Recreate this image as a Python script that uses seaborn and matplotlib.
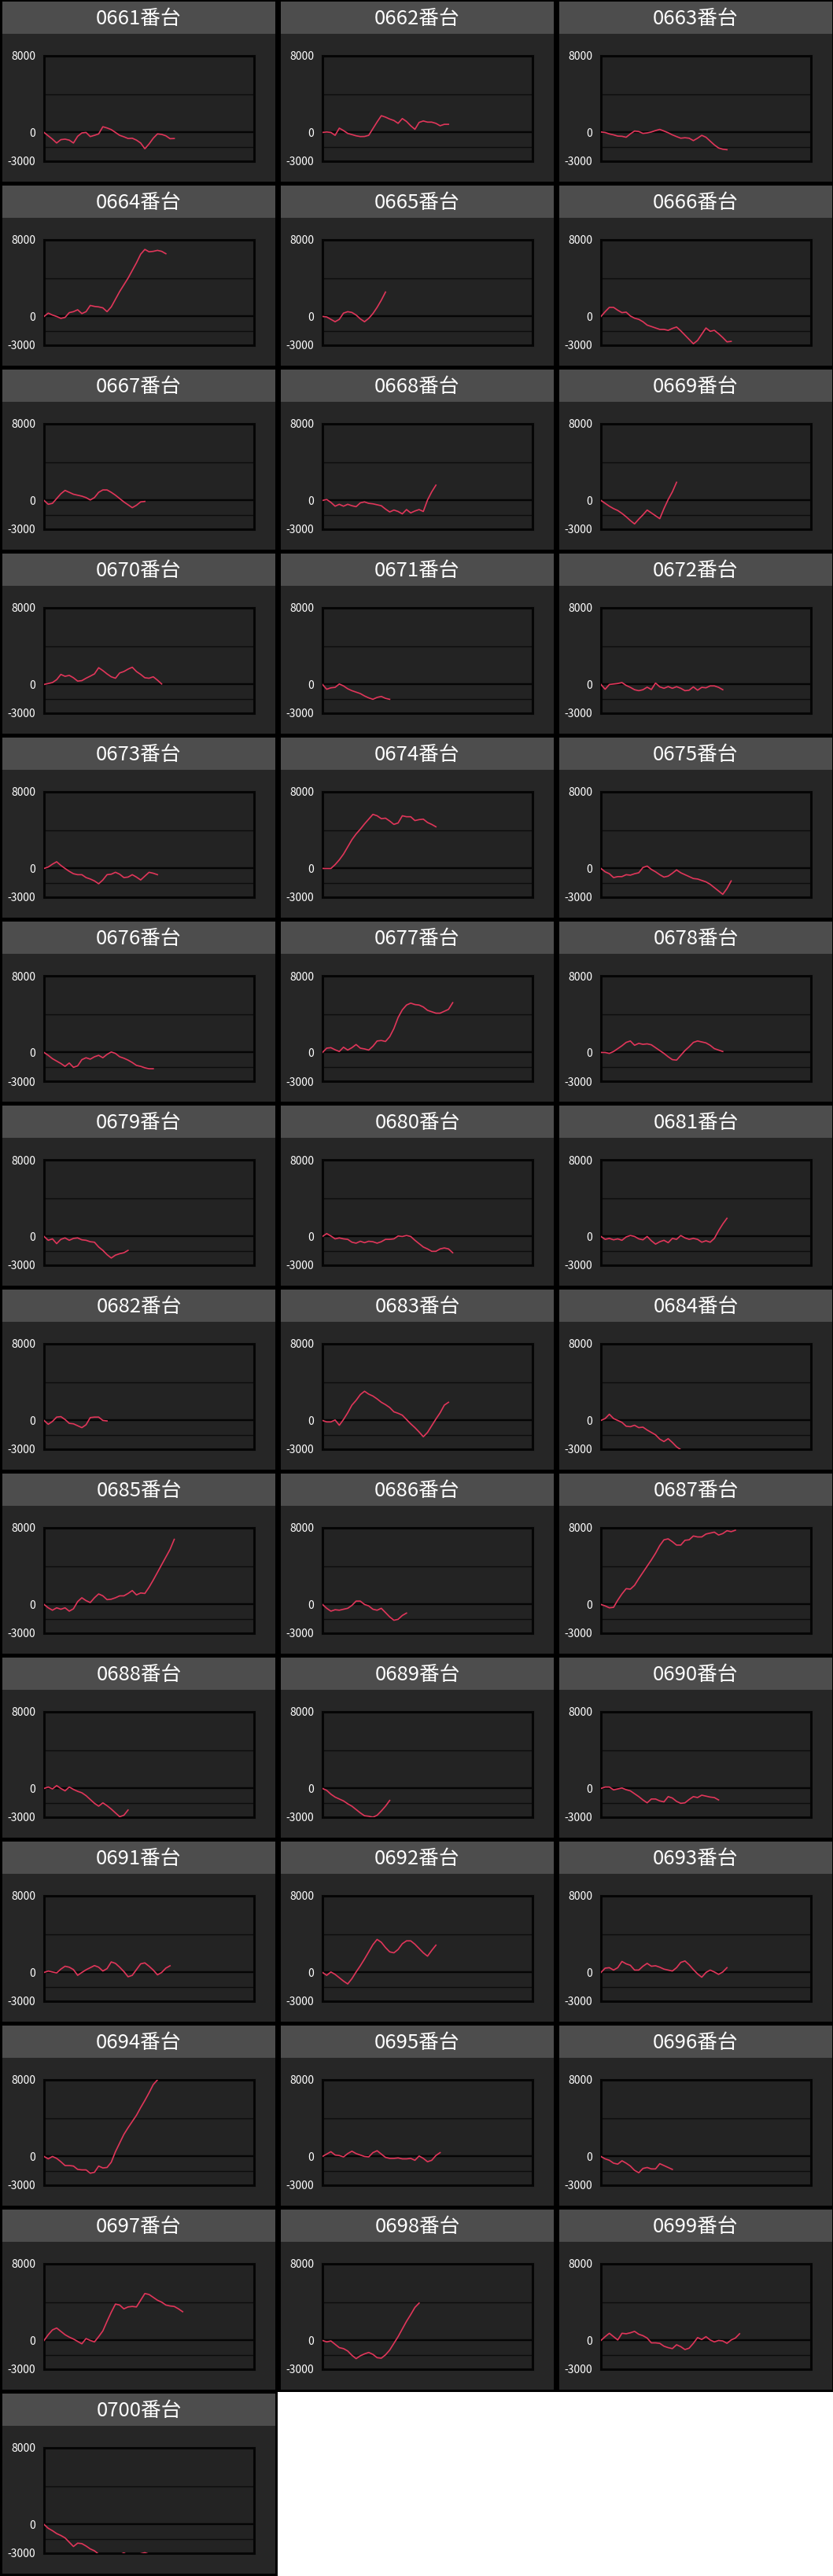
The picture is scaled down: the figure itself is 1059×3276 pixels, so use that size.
import matplotlib
matplotlib.use("Agg")
import matplotlib.pyplot as plt
from matplotlib.patches import Rectangle
import seaborn as sns

# ---------------- data ----------------
MACHINES = [f"{n:04d}" for n in range(661, 701)]
TITLE_SUFFIX = "番台"
Y_TICKS = [8000, 0, -3000]
Y_TICK_LABELS = ["8000", "0", "-3000"]
Y_GRID = [4000, -1500]
X_MAX = 50

Y_0661 = [0, -350, -700, -1100, -750, -700, -800, -1100, -400, -50, 0, -430, -300, -150, 600, 470, 300, 0, -300, -450, -630, -600, -800, -1100, -1700, -1200, -600, -150, -200, -350, -650, -630]
Y_0662 = [0, 50, 0, -300, 450, 200, -100, -220, -350, -430, -420, -300, 400, 1100, 1750, 1600, 1400, 1250, 950, 1450, 1150, 700, 330, 1050, 1200, 1080, 1080, 950, 700, 850, 850]
Y_0663 = [50, 0, -150, -250, -380, -400, -500, -150, 150, 100, -100, -50, 50, 200, 320, 150, -30, -250, -430, -600, -550, -600, -850, -600, -300, -500, -900, -1300, -1620, -1750, -1800]
Y_0664 = [0, 350, 150, 0, -200, -100, 400, 500, 700, 300, 500, 1150, 1050, 1000, 900, 500, 1000, 1800, 2600, 3300, 4000, 4800, 5600, 6500, 7000, 6750, 6800, 6900, 6800, 6550]
Y_0665 = [0, -50, -300, -550, -300, 350, 500, 420, 150, -250, -550, -200, 300, 950, 1700, 2550]
Y_0666 = [0, 500, 950, 950, 650, 400, 450, 50, -180, -300, -550, -900, -1050, -1200, -1350, -1350, -1450, -1250, -1100, -1500, -1950, -2400, -2850, -2500, -1850, -1200, -1550, -1450, -1800, -2200, -2650, -2600]
Y_0667 = [0, -400, -300, 200, 700, 1050, 850, 650, 550, 450, 300, 50, 300, 850, 1100, 1100, 850, 550, 200, -150, -450, -750, -500, -150, -100]
Y_0668 = [0, 100, -200, -600, -400, -600, -400, -550, -650, -250, -150, -300, -350, -450, -550, -900, -1200, -1000, -1150, -1400, -950, -1300, -1100, -950, -1150, 50, 900, 1600]
Y_0669 = [0, -300, -600, -850, -1050, -1350, -1700, -2100, -2450, -1950, -1500, -1000, -1300, -1600, -1900, -850, 100, 900, 1900]
Y_0670 = [0, 100, 200, 500, 1050, 850, 950, 700, 350, 400, 650, 870, 1100, 1750, 1450, 1100, 800, 650, 1200, 1350, 1600, 1800, 1350, 1050, 700, 650, 800, 450, 50]
Y_0671 = [0, -500, -350, -300, 50, -150, -450, -650, -800, -950, -1200, -1400, -1550, -1350, -1250, -1450, -1550]
Y_0672 = [0, -500, 0, 50, 100, 200, -100, -300, -550, -650, -550, -280, -530, 150, -250, -400, -220, -400, -230, -400, -650, -600, -250, -600, -300, -350, -150, -150, -300, -550]
Y_0673 = [0, 150, 450, 700, 320, 0, -300, -550, -650, -650, -950, -1100, -1300, -1600, -1200, -650, -600, -400, -600, -950, -900, -650, -900, -1200, -800, -400, -500, -650]
Y_0674 = [0, 0, 0, 400, 900, 1500, 2250, 3000, 3600, 4100, 4650, 5150, 5650, 5500, 5200, 5250, 4950, 4600, 4750, 5500, 5400, 5400, 5000, 5100, 5150, 4800, 4600, 4350]
Y_0675 = [0, -350, -550, -950, -850, -850, -650, -700, -550, -450, 100, 250, -100, -350, -650, -900, -800, -500, -150, -450, -650, -850, -1050, -1100, -1250, -1400, -1650, -2000, -2350, -2700, -2100, -1300]
Y_0676 = [0, -300, -650, -900, -1150, -1450, -1100, -1550, -1400, -750, -550, -700, -450, -300, -550, -200, 50, -100, -450, -600, -800, -1050, -1350, -1450, -1600, -1700, -1700]
Y_0677 = [0, 450, 500, 280, 100, 550, 250, 500, 830, 450, 370, 250, 650, 1200, 1250, 1150, 1650, 2500, 3650, 4450, 4950, 5150, 5000, 4950, 4750, 4400, 4250, 4100, 4100, 4300, 4500, 5200]
Y_0678 = [0, 0, -100, 100, 400, 700, 1050, 1200, 750, 950, 850, 900, 800, 500, 200, -100, -450, -750, -800, -300, 200, 600, 1050, 1200, 1100, 1000, 750, 400, 250, 100]
Y_0679 = [0, -400, -250, -750, -300, -150, -400, -200, -150, -350, -400, -550, -600, -1100, -1450, -1900, -2250, -1950, -1800, -1700, -1450]
Y_0680 = [0, 300, 50, -250, -150, -250, -300, -600, -700, -500, -650, -500, -550, -700, -550, -300, -300, -250, 50, 0, 100, 0, -400, -750, -1100, -1300, -1550, -1550, -1300, -1200, -1300, -1700]
Y_0681 = [0, -300, -200, -350, -250, -400, -50, 100, 0, -250, -350, 0, -450, -800, -550, -400, -650, -200, -300, 100, -150, -300, -200, -300, -600, -450, -600, -200, 600, 1300, 1900]
Y_0682 = [0, -400, -100, 350, 400, 100, -300, -350, -550, -750, -450, 300, 350, 350, 0, -50]
Y_0683 = [0, -150, -150, 50, -500, 100, 800, 1600, 2100, 2700, 3050, 2750, 2550, 2250, 1900, 1650, 1350, 900, 750, 550, 100, -350, -750, -1200, -1700, -1250, -550, 150, 800, 1600, 1900]
Y_0684 = [0, 200, 650, 200, 0, -200, -600, -650, -500, -750, -700, -1000, -1250, -1500, -1950, -2200, -1900, -2300, -2750, -3050]
Y_0685 = [0, -350, -600, -350, -500, -350, -700, -450, 300, 700, 400, 200, 700, 1100, 900, 500, 550, 700, 900, 900, 1150, 1450, 1000, 1200, 1150, 1800, 2550, 3350, 4150, 4950, 5750, 6800]
Y_0686 = [0, -400, -700, -550, -600, -500, -400, -100, 350, 350, 0, -150, -500, -600, -400, -850, -1300, -1650, -1550, -1150, -900]
Y_0687 = [0, -150, -350, -300, 450, 1100, 1650, 1600, 2000, 2700, 3350, 4000, 4650, 5350, 6150, 6750, 6850, 6550, 6200, 6200, 6700, 6750, 7150, 7050, 7050, 7350, 7450, 7550, 7250, 7400, 7700, 7600, 7750]
Y_0688 = [0, 150, -50, 300, 0, -250, 150, -100, -300, -450, -750, -1150, -1550, -1850, -1500, -1800, -2150, -2550, -2950, -2800, -2250]
Y_0689 = [0, -200, -600, -900, -1100, -1300, -1600, -1850, -2200, -2550, -2850, -2900, -3000, -2800, -2350, -1850, -1250]
Y_0690 = [0, 150, 150, -150, -50, 50, -130, -250, -550, -850, -1200, -1500, -1100, -1100, -1300, -1400, -850, -1000, -1350, -1550, -1500, -1150, -850, -950, -700, -800, -900, -950, -1200]
Y_0691 = [0, 150, 50, -50, 350, 650, 550, 300, -300, 0, 280, 500, 720, 550, 150, 400, 1100, 950, 550, 100, -450, -300, 300, 900, 1000, 650, 250, -250, 0, 450, 700]
Y_0692 = [0, -300, 50, -200, -550, -900, -1200, -650, 50, 700, 1400, 2150, 2900, 3450, 3150, 2600, 2150, 2050, 2400, 3000, 3300, 3300, 2950, 2500, 2050, 1700, 2300, 2850]
Y_0693 = [0, 450, 500, 250, 500, 1150, 900, 750, 250, 250, 650, 950, 650, 700, 550, 350, 250, 150, 500, 1050, 1200, 800, 300, -150, -500, 0, 250, 50, -200, 50, 500]
Y_0694 = [0, -250, 0, -200, -550, -950, -950, -1000, -1350, -1400, -1400, -1750, -1650, -1000, -1200, -1150, -600, 500, 1400, 2300, 3000, 3650, 4300, 5100, 5850, 6650, 7500, 8000]
Y_0695 = [0, 250, 500, 150, 100, -50, 300, 550, 300, 150, 0, -50, 400, 600, 250, -100, -200, -200, -150, -250, -250, -200, -400, 50, -200, -550, -400, 100, 400]
Y_0696 = [0, -250, -400, -700, -800, -450, -700, -1000, -1450, -1700, -1250, -1150, -1300, -1300, -750, -950, -1150, -1350]
Y_0697 = [0, 600, 1100, 1300, 950, 600, 350, 150, -100, -350, 200, 0, -150, 400, 1000, 2000, 2950, 3800, 3700, 3300, 3500, 3550, 3500, 4200, 4900, 4800, 4500, 4200, 4000, 3700, 3600, 3550, 3300, 3000]
Y_0698 = [0, -150, -50, -400, -750, -850, -1100, -1550, -1900, -1600, -1400, -1250, -1450, -1800, -1850, -1500, -1000, -300, 400, 1200, 2000, 2700, 3450, 3900]
Y_0699 = [0, 400, 750, 400, 50, 750, 700, 800, 950, 650, 500, 250, -250, -250, -300, -600, -750, -850, -450, -650, -950, -800, -300, 300, 100, 400, 50, -150, 0, -50, -300, 50, 250, 700]
Y_0700 = [0, -400, -650, -950, -1150, -1400, -1850, -2300, -1950, -2000, -2250, -2550, -2750, -3100, -3400, -3600, -3500, -3300, -3150, -2970, -3200, -3400, -3200, -3050, -2950, -3100]

SERIES = {m: globals()[f"Y_{m}"] for m in MACHINES}

# ---------------- style ----------------
W, H = 1059, 3276
N_COLS = 3
CELL_W, ROW_H = 354, 234
PANEL_W = 347
HEADER_H = 41
LINE_COLOR = "#e0365a"
HEADER_COLOR = "#4d4d4d"
BODY_COLOR = "#262626"
PLOT_BG = "#232323"
FONT = ["Noto Sans CJK JP", "DejaVu Sans"]

fig = plt.figure(figsize=(W / 100, H / 100), dpi=100)
fig.patch.set_facecolor("white")


def add_rect(x, y, w, h, color, z):
    fig.patches.append(Rectangle((x / W, 1 - (y + h) / H), w / W, h / H,
                                 transform=fig.transFigure, facecolor=color,
                                 edgecolor="none", zorder=z))


full_rows = len(MACHINES) // N_COLS
# black backdrop
add_rect(0, 0, W, full_rows * ROW_H, "#000000", -3)
if len(MACHINES) % N_COLS:
    add_rect(0, full_rows * ROW_H, (len(MACHINES) % N_COLS) * CELL_W - 1, ROW_H, "#000000", -3)

for i, m in enumerate(MACHINES):
    r, c = divmod(i, N_COLS)
    px = 3 + CELL_W * c
    ry = ROW_H * r
    add_rect(px, ry + 2, PANEL_W, HEADER_H, HEADER_COLOR, -2)
    add_rect(px, ry + 2 + HEADER_H, PANEL_W, 229 - HEADER_H, BODY_COLOR, -2)
    fig.text((px + PANEL_W / 2) / W, 1 - (ry + 24) / H, m + TITLE_SUFFIX,
             ha="center", va="center", fontsize=18.5, color="white",
             family=FONT, zorder=5)

    left, right = px + 53, px + 320
    top, bottom = ry + 71, ry + 205
    ax = fig.add_axes([left / W, 1 - bottom / H, (right - left) / W, (bottom - top) / H])
    ax.set_zorder(2)
    ax.set_facecolor(PLOT_BG)
    y = SERIES[m]
    for g in Y_GRID:
        ax.axhline(g, color="#0d0d0d", lw=1.0, zorder=1)
    ax.axhline(0, color="#050505", lw=1.7, zorder=1)
    sns.lineplot(x=list(range(len(y))), y=y, ax=ax, color=LINE_COLOR,
                 linewidth=1.2, zorder=3)
    ax.set_xlim(0, X_MAX)
    ax.set_ylim(min(Y_TICKS), max(Y_TICKS))
    ax.set_xticks([])
    ax.set_yticks(Y_TICKS)
    ax.set_yticklabels(Y_TICK_LABELS, family=FONT)
    ax.tick_params(axis="y", length=0, pad=8, labelsize=10, labelcolor="white")
    ax.set_xlabel("")
    ax.set_ylabel("")
    for s in ax.spines.values():
        s.set_color("#050505")
        s.set_linewidth(2.2)

fig.savefig("out.png", dpi=100, facecolor=fig.get_facecolor())
